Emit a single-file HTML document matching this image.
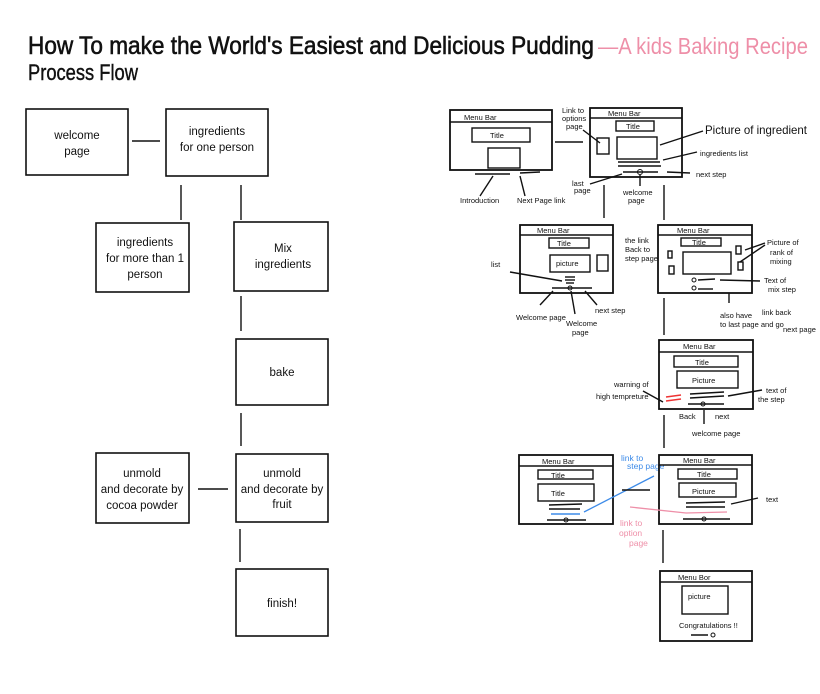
<!DOCTYPE html>
<html><head><meta charset="utf-8"><style>
html,body{margin:0;padding:0;background:#fff;}
svg{display:block}
.hw{font-family:"Liberation Sans",sans-serif;fill:#111}
.bx{fill:none;stroke:#111;stroke-width:1.6}
.fr{fill:none;stroke:#111;stroke-width:1.8}
.ln{stroke:#111;stroke-width:1.4;fill:none}
.lb{font-family:"Liberation Sans",sans-serif;font-size:11.5px;fill:#111;text-anchor:middle}
.s{font-family:"Liberation Sans",sans-serif;font-size:7.5px;fill:#111}
</style></head><body>
<svg width="820" height="694" viewBox="0 0 820 694" xmlns="http://www.w3.org/2000/svg">
<rect width="820" height="694" fill="#fff"/>
<!-- title -->
<text x="28" y="54" class="hw" font-size="25" stroke="#111" stroke-width="0.6" textLength="566" lengthAdjust="spacingAndGlyphs">How To make the World's Easiest and Delicious Pudding</text>
<text x="598" y="54" font-family="Liberation Sans,sans-serif" font-size="23" fill="#ee8fa8" textLength="210" lengthAdjust="spacingAndGlyphs">—A kids Baking Recipe</text>
<text x="28" y="80" class="hw" font-size="22" stroke="#111" stroke-width="0.4" textLength="110" lengthAdjust="spacingAndGlyphs">Process Flow</text>

<!-- left flowchart -->
<rect class="bx" x="26" y="109" width="102" height="66"/>
<text class="lb" x="77" y="139">welcome</text><text class="lb" x="77" y="155">page</text>
<rect class="bx" x="166" y="109" width="102" height="67"/>
<text class="lb" x="217" y="135">ingredients</text><text class="lb" x="217" y="151">for one person</text>
<rect class="bx" x="96" y="223" width="93" height="69"/>
<text class="lb" x="145" y="246">ingredients</text><text class="lb" x="145" y="262">for more than 1</text><text class="lb" x="145" y="278">person</text>
<rect class="bx" x="234" y="222" width="94" height="69"/>
<text class="lb" x="283" y="252">Mix</text><text class="lb" x="283" y="268">ingredients</text>
<rect class="bx" x="236" y="339" width="92" height="66"/>
<text class="lb" x="282" y="376">bake</text>
<rect class="bx" x="96" y="453" width="93" height="70"/>
<text class="lb" x="142" y="477">unmold</text><text class="lb" x="142" y="493">and decorate by</text><text class="lb" x="142" y="509">cocoa powder</text>
<rect class="bx" x="236" y="454" width="92" height="68"/>
<text class="lb" x="282" y="477">unmold</text><text class="lb" x="282" y="493">and decorate by</text><text class="lb" x="282" y="508">fruit</text>
<rect class="bx" x="236" y="569" width="92" height="67"/>
<text class="lb" x="282" y="607">finish!</text>
<g class="ln">
<line x1="132" y1="141" x2="160" y2="141"/>
<line x1="181" y1="185" x2="181" y2="220"/>
<line x1="241" y1="185" x2="241" y2="220"/>
<line x1="241" y1="296" x2="241" y2="331"/>
<line x1="241" y1="413" x2="241" y2="446"/>
<line x1="198" y1="489" x2="228" y2="489"/>
<line x1="240" y1="529" x2="240" y2="562"/>
</g>

<!-- right sketches -->
<g>
<rect class="fr" x="450" y="110" width="102" height="60"/><line class="ln" x1="450" y1="122" x2="552" y2="122"/>
<text class="s" x="464" y="120">Menu  Bar</text>
<rect class="ln" x="472" y="128" width="58" height="14"/><text class="s" x="490" y="138">Title</text>
<rect class="ln" x="488" y="148" width="32" height="20"/>
<line class="ln" x1="475" y1="174" x2="510" y2="174"/><line class="ln" x1="520" y1="173" x2="540" y2="172"/>
<line class="ln" x1="493" y1="176" x2="480" y2="196"/><line class="ln" x1="520" y1="176" x2="525" y2="196"/>
<text class="s" x="460" y="203">Introduction</text><text class="s" x="517" y="203">Next Page link</text>
<line class="ln" x1="555" y1="142" x2="583" y2="142"/>
<rect class="fr" x="590" y="108" width="92" height="69"/><line class="ln" x1="590" y1="118" x2="682" y2="118"/>
<text class="s" x="608" y="116">Menu  Bar</text>
<rect class="ln" x="616" y="121" width="38" height="10"/><text class="s" x="626" y="129">Title</text>
<rect class="ln" x="597" y="138" width="12" height="16"/>
<rect class="ln" x="617" y="137" width="40" height="22"/>
<line class="ln" x1="618" y1="162" x2="660" y2="162"/><line class="ln" x1="618" y1="166" x2="661" y2="166"/>
<line class="ln" x1="623" y1="172" x2="658" y2="172"/><circle cx="640" cy="172" r="2.5" fill="none" stroke="#111"/>
<text class="s" x="562" y="113">Link to</text><text class="s" x="562" y="121">options</text><text class="s" x="566" y="129">page</text>
<line class="ln" x1="583" y1="130" x2="600" y2="143"/>
<line class="ln" x1="660" y1="145" x2="703" y2="131"/>
<text x="705" y="134" class="hw" font-size="12" textLength="102" lengthAdjust="spacingAndGlyphs">Picture of ingredient</text>
<line class="ln" x1="663" y1="160" x2="697" y2="152"/><text class="s" x="700" y="156" font-size="9">ingredients list</text>
<line class="ln" x1="667" y1="172" x2="690" y2="173"/><text class="s" x="696" y="177" font-size="9">next step</text>
<line class="ln" x1="622" y1="174" x2="590" y2="184"/><text class="s" x="572" y="186">last</text><text class="s" x="574" y="193">page</text>
<line class="ln" x1="640" y1="175" x2="640" y2="186"/><text class="s" x="623" y="195">welcome</text><text class="s" x="628" y="203">page</text>
<line class="ln" x1="604" y1="185" x2="604" y2="218"/><line class="ln" x1="664" y1="185" x2="664" y2="220"/>
<rect class="fr" x="520" y="225" width="93" height="68"/><line class="ln" x1="520" y1="235" x2="613" y2="235"/>
<text class="s" x="537" y="233">Menu  Bar</text>
<rect class="ln" x="549" y="238" width="40" height="10"/><text class="s" x="557" y="246">Title</text>
<rect class="ln" x="550" y="255" width="40" height="17"/><text class="s" x="556" y="266">picture</text>
<rect class="ln" x="597" y="255" width="11" height="16"/>
<line class="ln" x1="565" y1="277" x2="575" y2="277"/><line class="ln" x1="565" y1="280" x2="575" y2="280"/><line class="ln" x1="566" y1="283" x2="574" y2="283"/>
<line class="ln" x1="552" y1="288" x2="592" y2="288"/><circle cx="570" cy="288" r="2" fill="none" stroke="#111"/>
<text class="s" x="625" y="243">the link</text><text class="s" x="625" y="252" font-size="9">Back to</text><text class="s" x="625" y="261">step page</text>
<text class="s" x="491" y="267">list</text><line class="ln" x1="510" y1="272" x2="562" y2="281"/>
<line class="ln" x1="553" y1="291" x2="540" y2="305"/><line class="ln" x1="571" y1="291" x2="575" y2="314"/><line class="ln" x1="585" y1="291" x2="597" y2="305"/>
<text class="s" x="516" y="320">Welcome page</text><text class="s" x="566" y="326">Welcome</text><text class="s" x="572" y="335">page</text>
<text class="s" x="595" y="313" font-size="9">next step</text>
<rect class="fr" x="658" y="225" width="94" height="68"/><line class="ln" x1="658" y1="235" x2="752" y2="235"/>
<text class="s" x="677" y="233" font-size="9">Menu  Bar</text>
<rect class="ln" x="681" y="238" width="40" height="8"/><text class="s" x="692" y="245">Title</text>
<rect class="ln" x="683" y="252" width="48" height="22"/>
<rect class="ln" x="668" y="251" width="4" height="7"/><rect class="ln" x="669" y="266" width="5" height="8"/>
<rect class="ln" x="736" y="246" width="5" height="8"/><rect class="ln" x="738" y="262" width="5" height="8"/>
<circle cx="694" cy="280" r="2" fill="none" stroke="#111"/><circle cx="694" cy="288" r="2" fill="none" stroke="#111"/>
<line class="ln" x1="698" y1="280" x2="715" y2="279"/><line class="ln" x1="698" y1="289" x2="713" y2="289"/>
<line class="ln" x1="720" y1="280" x2="760" y2="281"/>
<text class="s" x="767" y="245" font-size="9">Picture of</text><text class="s" x="770" y="255">rank of</text><text class="s" x="770" y="264">mixing</text>
<line class="ln" x1="745" y1="250" x2="765" y2="243"/><line class="ln" x1="740" y1="262" x2="765" y2="245"/>
<text class="s" x="764" y="283">Text of</text><text class="s" x="768" y="292">mix step</text>
<line class="ln" x1="729" y1="293" x2="729" y2="303"/>
<text class="s" x="720" y="318">also have</text><text class="s" x="762" y="315">link back</text><text class="s" x="720" y="327">to last page and go</text><text class="s" x="783" y="332">next page</text>
<line class="ln" x1="664" y1="298" x2="664" y2="335"/>
<rect class="fr" x="659" y="340" width="94" height="69"/><line class="ln" x1="659" y1="352" x2="753" y2="352"/>
<text class="s" x="683" y="349" font-size="8.5">Menu  Bar</text>
<rect class="ln" x="674" y="356" width="64" height="11"/><text class="s" x="695" y="365">Title</text>
<rect class="ln" x="677" y="371" width="61" height="17"/><text class="s" x="692" y="383" font-size="9">Picture</text>
<line x1="666" y1="397" x2="681" y2="395" stroke="#e33" stroke-width="1.4"/><line x1="666" y1="401" x2="681" y2="399" stroke="#e33" stroke-width="1.4"/>
<line class="ln" x1="690" y1="394" x2="724" y2="392"/><line class="ln" x1="690" y1="398" x2="724" y2="396"/>
<line class="ln" x1="688" y1="404" x2="724" y2="404"/><circle cx="703" cy="404" r="2" fill="none" stroke="#111"/>
<text class="s" x="614" y="387">warning of</text><text class="s" x="596" y="399">high tempreture</text>
<line class="ln" x1="643" y1="391" x2="663" y2="402"/>
<line class="ln" x1="728" y1="396" x2="762" y2="390"/><text class="s" x="766" y="393" font-size="8.5">text of</text><text class="s" x="758" y="402">the  step</text>
<text class="s" x="679" y="419">Back</text><text class="s" x="715" y="419">next</text><line class="ln" x1="704" y1="410" x2="704" y2="424"/>
<text class="s" x="692" y="436">welcome page</text>
<line class="ln" x1="664" y1="415" x2="664" y2="448"/>
<rect class="fr" x="519" y="455" width="94" height="69"/><line class="ln" x1="519" y1="466" x2="613" y2="466"/>
<text class="s" x="542" y="464">Menu Bar</text>
<rect class="ln" x="538" y="470" width="55" height="9"/><text class="s" x="551" y="478">Title</text>
<rect class="ln" x="538" y="484" width="56" height="17"/><text class="s" x="551" y="496">Title</text>
<line class="ln" x1="549" y1="505" x2="582" y2="504"/><line class="ln" x1="549" y1="509" x2="580" y2="509"/>
<line x1="551" y1="514" x2="580" y2="514" stroke="#3d8be8" stroke-width="1.4"/>
<line class="ln" x1="547" y1="520" x2="586" y2="520"/><circle cx="566" cy="520" r="2" fill="none" stroke="#111"/>
<line x1="584" y1="512" x2="654" y2="476" stroke="#3d8be8" stroke-width="1.3"/>
<text x="621" y="461" font-family="Liberation Sans,sans-serif" font-size="8.5" fill="#3d8be8">link to</text>
<text x="627" y="469" font-family="Liberation Sans,sans-serif" font-size="8.5" fill="#3d8be8">step page</text>
<line class="ln" x1="622" y1="490" x2="650" y2="490"/>
<rect class="fr" x="659" y="455" width="93" height="69"/><line class="ln" x1="659" y1="465" x2="752" y2="465"/>
<text class="s" x="683" y="463">Menu Bar</text>
<rect class="ln" x="678" y="469" width="59" height="10"/><text class="s" x="697" y="477">Title</text>
<rect class="ln" x="679" y="483" width="57" height="14"/><text class="s" x="692" y="494" font-size="9">Picture</text>
<line class="ln" x1="686" y1="503" x2="725" y2="502"/><line class="ln" x1="686" y1="507" x2="725" y2="507"/>
<line x1="686" y1="513" x2="727" y2="512" stroke="#ee8fa8" stroke-width="1.3"/>
<line class="ln" x1="683" y1="519" x2="730" y2="519"/><circle cx="704" cy="519" r="2" fill="none" stroke="#111"/>
<line x1="686" y1="513" x2="630" y2="507" stroke="#ee8fa8" stroke-width="1.3"/>
<text x="620" y="526" font-family="Liberation Sans,sans-serif" font-size="8.5" fill="#ee8fa8">link to</text>
<text x="619" y="536" font-family="Liberation Sans,sans-serif" font-size="8.5" fill="#ee8fa8">option</text>
<text x="629" y="546" font-family="Liberation Sans,sans-serif" font-size="8.5" fill="#ee8fa8">page</text>
<line class="ln" x1="731" y1="504" x2="758" y2="498"/><text class="s" x="766" y="502" font-size="11">text</text>
<line class="ln" x1="663" y1="530" x2="663" y2="563"/>
<rect class="fr" x="660" y="571" width="92" height="70"/><line class="ln" x1="660" y1="582" x2="752" y2="582"/>
<text class="s" x="678" y="580">Menu  Bor</text>
<rect class="ln" x="682" y="586" width="46" height="28"/><text class="s" x="688" y="599">picture</text>
<text class="s" x="679" y="628">Congratulations !!</text>
<line class="ln" x1="691" y1="635" x2="708" y2="635"/><circle cx="713" cy="635" r="2" fill="none" stroke="#111"/>
</g>
</svg>
</body></html>
